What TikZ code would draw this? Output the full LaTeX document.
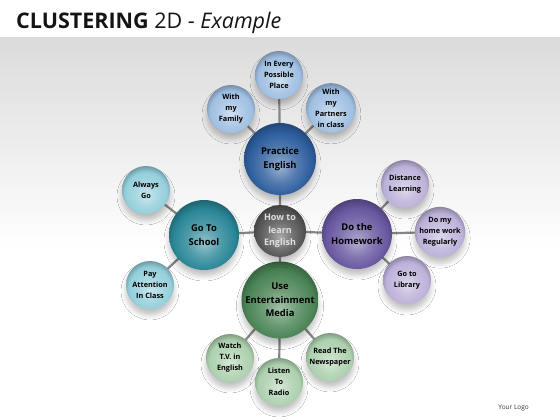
\documentclass[tikz,border=0pt]{standalone}
\usepackage{fontspec}
\setmainfont{Open Sans}
\usetikzlibrary{shadows.blur}
\pgfdeclareradialshading[sphc]{sphere}{\pgfpoint{0bp}{-6bp}}{color(0bp)=(sphc!50!white); color(12bp)=(sphc!82!white); color(22bp)=(sphc); color(31bp)=(sphc!60!black); color(50bp)=(sphc!60!black)}
\definecolor{cgray}{HTML}{555555}
\definecolor{cblue}{HTML}{2E5E9E}
\definecolor{lblue}{HTML}{9FBFE2}
\definecolor{cteal}{HTML}{2A8697}
\definecolor{lteal}{HTML}{94CFDB}
\definecolor{cpurp}{HTML}{6957A0}
\definecolor{lpurp}{HTML}{BDB1D9}
\definecolor{cgreen}{HTML}{4A8455}
\definecolor{lgreen}{HTML}{ACD0AE}
\definecolor{linec}{HTML}{858585}
\tikzset{
  sph/.code={\colorlet{sphc}{#1}\tikzset{shading=sphere}},
  ball/.style={circle, inner sep=0pt, align=center, font=\bfseries\fontsize{7.3}{11}\selectfont, text=black,
     blur shadow={shadow xshift=0pt, shadow yshift=-6pt, shadow opacity=25, shadow blur steps=6, shadow blur radius=5pt}},
  small/.style={ball, minimum size=48pt},
  big/.style={ball, minimum size=72pt, font=\bfseries\fontsize{9.4}{13.5}\selectfont},
  conn/.style={draw=linec, line width=2.2pt},
}
\begin{document}
\begin{tikzpicture}[x=1pt,y=-1pt]
\useasboundingbox (0,0) rectangle (560,420);
\fill[white] (0,0) rectangle (560,420);
\fill[top color=black!14, bottom color=white] (0,38) rectangle (560,250);
\node[anchor=base west, inner sep=0pt, text=black!92] (title) at (16,29) {\fontsize{21.5}{21.5}\selectfont\textbf{CLUSTERING} 2D - \textit{Example}};
\node[anchor=base east, inner sep=0pt, text=black!80, font=\fontsize{6.5}{8}\selectfont] (logo) at (529,409) {Your Logo};

% positions
\coordinate (pc) at (280,231);
\coordinate (pp) at (280,159);
\coordinate (pp1) at (279,75);
\coordinate (pp2) at (231,109);
\coordinate (pp3) at (331,108);
\coordinate (ps) at (204,235);
\coordinate (ps1) at (146,190);
\coordinate (ps2) at (150,285);
\coordinate (ph) at (357,234);
\coordinate (ph1) at (405,184);
\coordinate (ph2) at (440,232);
\coordinate (ph3) at (407,280);
\coordinate (pe) at (280,300);
\coordinate (pe1) at (230,358);
\coordinate (pe2) at (279,382);
\coordinate (pe3) at (330,357);

% connectors
\draw[conn] (pc) -- (pp) (pp) -- (pp1) (pp) -- (pp2) (pp) -- (pp3)
  (pc) -- (ps) (ps) -- (ps1) (ps) -- (ps2)
  (pc) -- (ph) (ph) -- (ph1) (ph) -- (ph2) (ph) -- (ph3)
  (pc) -- (pe) (pe) -- (pe1) (pe) -- (pe2) (pe) -- (pe3);

% nodes
\node[small, sph=lblue] (p1) at (pp1) {In Every\\Possible\\Place};
\node[small, sph=lblue] (p2) at (pp2) {With\\my\\Family};
\node[small, sph=lblue] (p3) at (pp3) {With\\my\\Partners\\in class};
\node[big, sph=cblue] (p) at (pp) {Practice\\English};

\node[small, sph=lteal] (s1) at (ps1) {Always\\Go};
\node[small, sph=lteal] (s2) at (ps2) {Pay\\Attention\\In Class};
\node[big, minimum size=70pt, sph=cteal] (s) at (ps) {Go To\\School};

\node[small, sph=lpurp] (h1) at (ph1) {Distance\\Learning};
\node[small, sph=lpurp] (h2) at (ph2) {Do my\\home work\\Regularly};
\node[small, sph=lpurp] (h3) at (ph3) {Go to\\Library};
\node[big, minimum size=70pt, sph=cpurp] (h) at (ph) {Do the\\Homework};

\node[small, sph=lgreen] (e1) at (pe1) {Watch\\T.V. in\\English};
\node[small, sph=lgreen] (e3) at (pe3) {Read The\\Newspaper};
\node[small, sph=lgreen] (e2) at (pe2) {Listen\\To\\Radio};
\node[big, sph=cgreen] (e) at (pe) {Use\\Entertainment\\Media};

\node[ball, minimum size=52pt, sph=cgray, text=white!88!black, font=\bfseries\fontsize{9}{12.5}\selectfont] (c) at (pc) {How to\\learn\\English};
\end{tikzpicture}
\end{document}
